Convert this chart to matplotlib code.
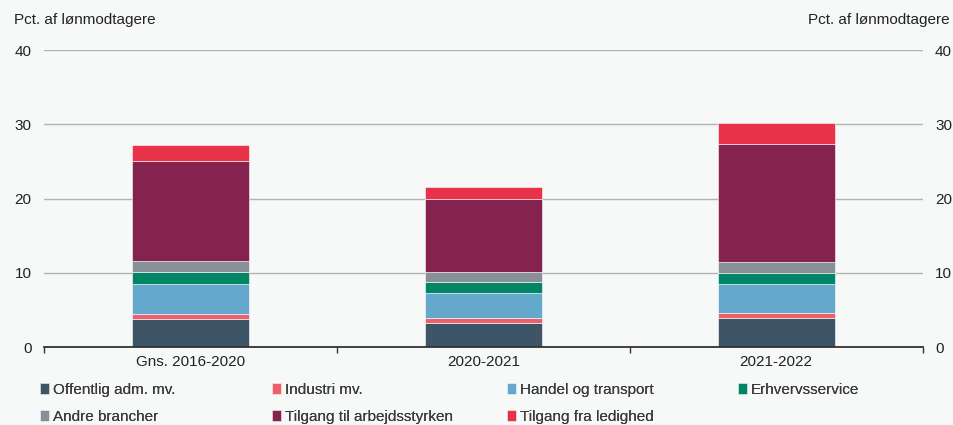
import matplotlib
matplotlib.use("Agg")
from matplotlib import pyplot as plt
import numpy as np

plt.rcParams['font.family'] = ['Liberation Sans', 'DejaVu Sans']

categories = ["Gns. 2016-2020", "2020-2021", "2021-2022"]
series_names = ["Offentlig adm. mv.", "Industri mv.", "Handel og transport", "Erhvervsservice",
                "Andre brancher", "Tilgang til arbejdsstyrken", "Tilgang fra ledighed"]
offentlig = [3.8, 3.3, 3.95]
industri = [0.6, 0.6, 0.65]
handel = [4.1, 3.4, 3.85]
erhverv = [1.6, 1.5, 1.55]
andre = [1.5, 1.35, 1.5]
tilgang_arb = [13.5, 9.75, 15.9]
tilgang_led = [2.1, 1.65, 2.8]
colors = ["#3d5566", "#e8616b", "#64a9cc", "#008566", "#878f99", "#84234d", "#e8324a"]

bg = "#f7f9f9"
fig = plt.figure(figsize=(9.54, 4.25), dpi=100, facecolor=bg)
ax = fig.add_axes([0.0461, 0.1835, 0.921, 0.6985], facecolor=bg)

x = np.arange(len(categories))
bottom = np.zeros(len(categories))
handles = []
for name, vals, col in zip(series_names,
                           [offentlig, industri, handel, erhverv, andre, tilgang_arb, tilgang_led],
                           colors):
    b = ax.bar(x, vals, 0.4, bottom=bottom, color=col, edgecolor="#ffffff", linewidth=0.4,
               label=name, zorder=3)
    handles.append(b)
    bottom += np.array(vals)

ax.set_xlim(-0.5, 2.5)
ax.set_ylim(0, 40)
ax.set_yticks([0, 10, 20, 30, 40])
ax.yaxis.grid(True, color="#b4b4b4", linewidth=1.0, zorder=0)
ax.tick_params(axis="y", length=0, labelsize=11, pad=9, labelright=True, colors="#222222")
ax.set_xticks(x)
ax.set_xticklabels(categories)
ax.tick_params(axis="x", length=0, labelsize=11, pad=6, colors="#222222")
ax.set_xticks([-0.5, 0.5, 1.5, 2.5], minor=True)
ax.tick_params(axis="x", which="minor", length=4, width=1, color="#333333")
for s in ["top", "left", "right"]:
    ax.spines[s].set_visible(False)
ax.spines["bottom"].set_color("#333333")
ax.spines["bottom"].set_linewidth(1.3)
ax.spines["bottom"].set_zorder(4)

fig.text(14 / 954, 1 - 20 / 425, "Pct. af lønmodtagere", fontsize=11, va="center", ha="left", color="#222222")
fig.text(950 / 954, 1 - 20 / 425, "Pct. af lønmodtagere", fontsize=11, va="center", ha="right", color="#222222")

# legend laid out in rows of four, with fixed column positions
col_x = [26, 258, 493, 724]
for c in range(4):
    idx = [i for i in (c, c + 4) if i < len(series_names)]
    leg = fig.legend(handles=[handles[i] for i in idx], labels=[series_names[i] for i in idx],
                     loc="upper left", bbox_to_anchor=(col_x[c] / 954, 1 - 369 / 425),
                     frameon=False, fontsize=11, handlelength=0.6, handleheight=0.7,
                     handletextpad=0.25, labelspacing=0.85, labelcolor="#3a3a3a")
    fig.add_artist(leg)

fig.savefig("out.png", dpi=100, facecolor=bg)
